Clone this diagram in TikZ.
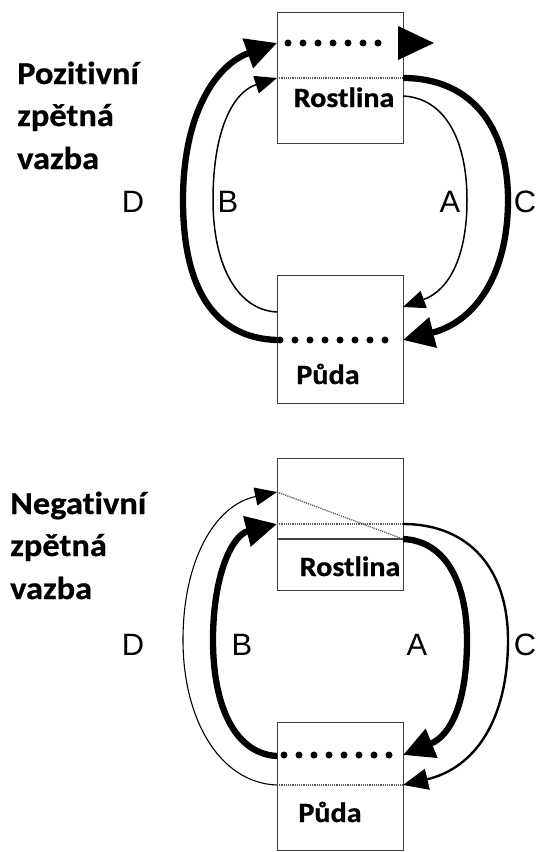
\documentclass[tikz,border=0pt]{standalone}
\usepackage{fontspec}
\setmainfont{Liberation Sans}
\newfontfamily\calfont[FakeStretch=1.08, FakeBold=0.7, Ligatures=NoCommon]{Carlito Bold}
\usetikzlibrary{arrows.meta}
\tikzset{
  box/.style={draw=black!75, line width=1.3bp, inner sep=0pt, anchor=north west},
  thickarr/.style={line width=6.3bp, -{Triangle[length=31bp,width=30bp]}},
  thinarr/.style={line width=1.5bp, -{Triangle[length=22bp,width=18bp]}},
  medarr/.style={line width=2.4bp, -{Triangle[length=25bp,width=21bp]}},
  bigdots/.style={line width=7bp, line cap=round, dash pattern=on 0pt off 15bp},
  finedots/.style={line width=1.3bp, draw=black!65, dash pattern=on 1.2bp off 1bp},
  title/.style={font=\calfont\fontsize{32}{36}\selectfont, anchor=base west, inner sep=0pt},
  boxtext/.style={font=\calfont\fontsize{28}{32}\selectfont, anchor=base, inner sep=0pt},
  lab/.style={font=\fontsize{31}{34}\selectfont, anchor=base, inner sep=0pt}
}
\begin{document}
\begin{tikzpicture}[x=1bp,y=-1bp]
\useasboundingbox (0,0) rectangle (539,852);
% ---------- positive feedback ----------
\node[title] (p1) at (17,84) {Pozitivní};
\node[title] (p2) at (17,126) {zpětná};
\node[title] (p3) at (17,169) {vazba};

\node[box, minimum width=126bp, minimum height=131bp] (R1) at (277,12) {};
\node[box, minimum width=126bp, minimum height=128bp] (P1) at (277,275) {};
\node[boxtext] (R1t) at (344,107) {Rostlina};
\node[boxtext] (P1t) at (328,384) {Půda};

\draw[finedots] (277,78) -- (403,78);
\draw[bigdots] (288,43) -- (392,43);
\fill (398,26) -- (434,43) -- (398,60) -- cycle;
\draw[bigdots] (280,340) -- (392,340);

\coordinate (R1a) at (277,43);
\coordinate (R1b) at (277,78);
\coordinate (R1c) at (403,78);
\coordinate (R1d) at (403,96);
\coordinate (P1a) at (277,340);
\coordinate (P1b) at (277,312);
\coordinate (P1c) at (403,340);
\coordinate (P1d) at (403,307);

\draw[thickarr] (P1a) .. controls (215,338) and (183,290) .. (183,200)
  .. controls (183,115) and (215,65) .. (R1a);
\draw[thinarr] (P1b) .. controls (237,310) and (213,265) .. (213,200)
  .. controls (213,130) and (233,92) .. (R1b);
\draw[thinarr] (R1d) .. controls (445,98) and (467,140) .. (467,200)
  .. controls (467,255) and (450,290) .. (P1d);
\draw[thickarr] (R1c) .. controls (470,78) and (508,125) .. (508,200)
  .. controls (508,275) and (475,322) .. (P1c);

\node[lab] (D1) at (133,212) {D};
\node[lab] (B1) at (228,212) {B};
\node[lab] (A1) at (450,212) {A};
\node[lab] (C1) at (525,212) {C};

% ---------- negative feedback ----------
\node[title] (n1) at (10,514) {Negativní};
\node[title] (n2) at (10,556) {zpětná};
\node[title] (n3) at (10,599) {vazba};

\node[box, minimum width=126bp, minimum height=132bp] (R2) at (277,458) {};
\node[box, minimum width=126bp, minimum height=128bp] (P2) at (277,722) {};
\node[boxtext] (R2t) at (350,576) {Rostlina};
\node[boxtext] (P2t) at (330,822) {Půda};

\draw[line width=1.3bp, draw=black!75] (277,539) -- (403,539);
\draw[finedots] (277,524) -- (403,524);
\draw[finedots] (277,492) -- (403,539);
\draw[bigdots] (284,755) -- (392,755);
\draw[finedots] (277,785) -- (403,785);

\coordinate (R2a) at (277,492);
\coordinate (R2b) at (277,524);
\coordinate (R2c) at (403,524);
\coordinate (R2d) at (403,539);
\coordinate (P2a) at (277,785);
\coordinate (P2b) at (277,756);
\coordinate (P2c) at (403,785);
\coordinate (P2d) at (403,755);

\draw[thinarr, line width=1.1bp] (P2a) .. controls (220,783) and (183,720) .. (183,640)
  .. controls (183,560) and (215,505) .. (R2a);
\draw[thickarr] (P2b) .. controls (237,754) and (213,710) .. (213,640)
  .. controls (213,575) and (232,535) .. (R2b);
\draw[thickarr] (R2d) .. controls (447,541) and (467,585) .. (467,640)
  .. controls (467,700) and (452,735) .. (P2d);
\draw[medarr] (R2c) .. controls (470,524) and (508,570) .. (508,640)
  .. controls (508,720) and (475,768) .. (P2c);

\node[lab] (D2) at (133,655) {D};
\node[lab] (B2) at (242,655) {B};
\node[lab] (A2) at (417,655) {A};
\node[lab] (C2) at (525,655) {C};
\end{tikzpicture}
\end{document}
